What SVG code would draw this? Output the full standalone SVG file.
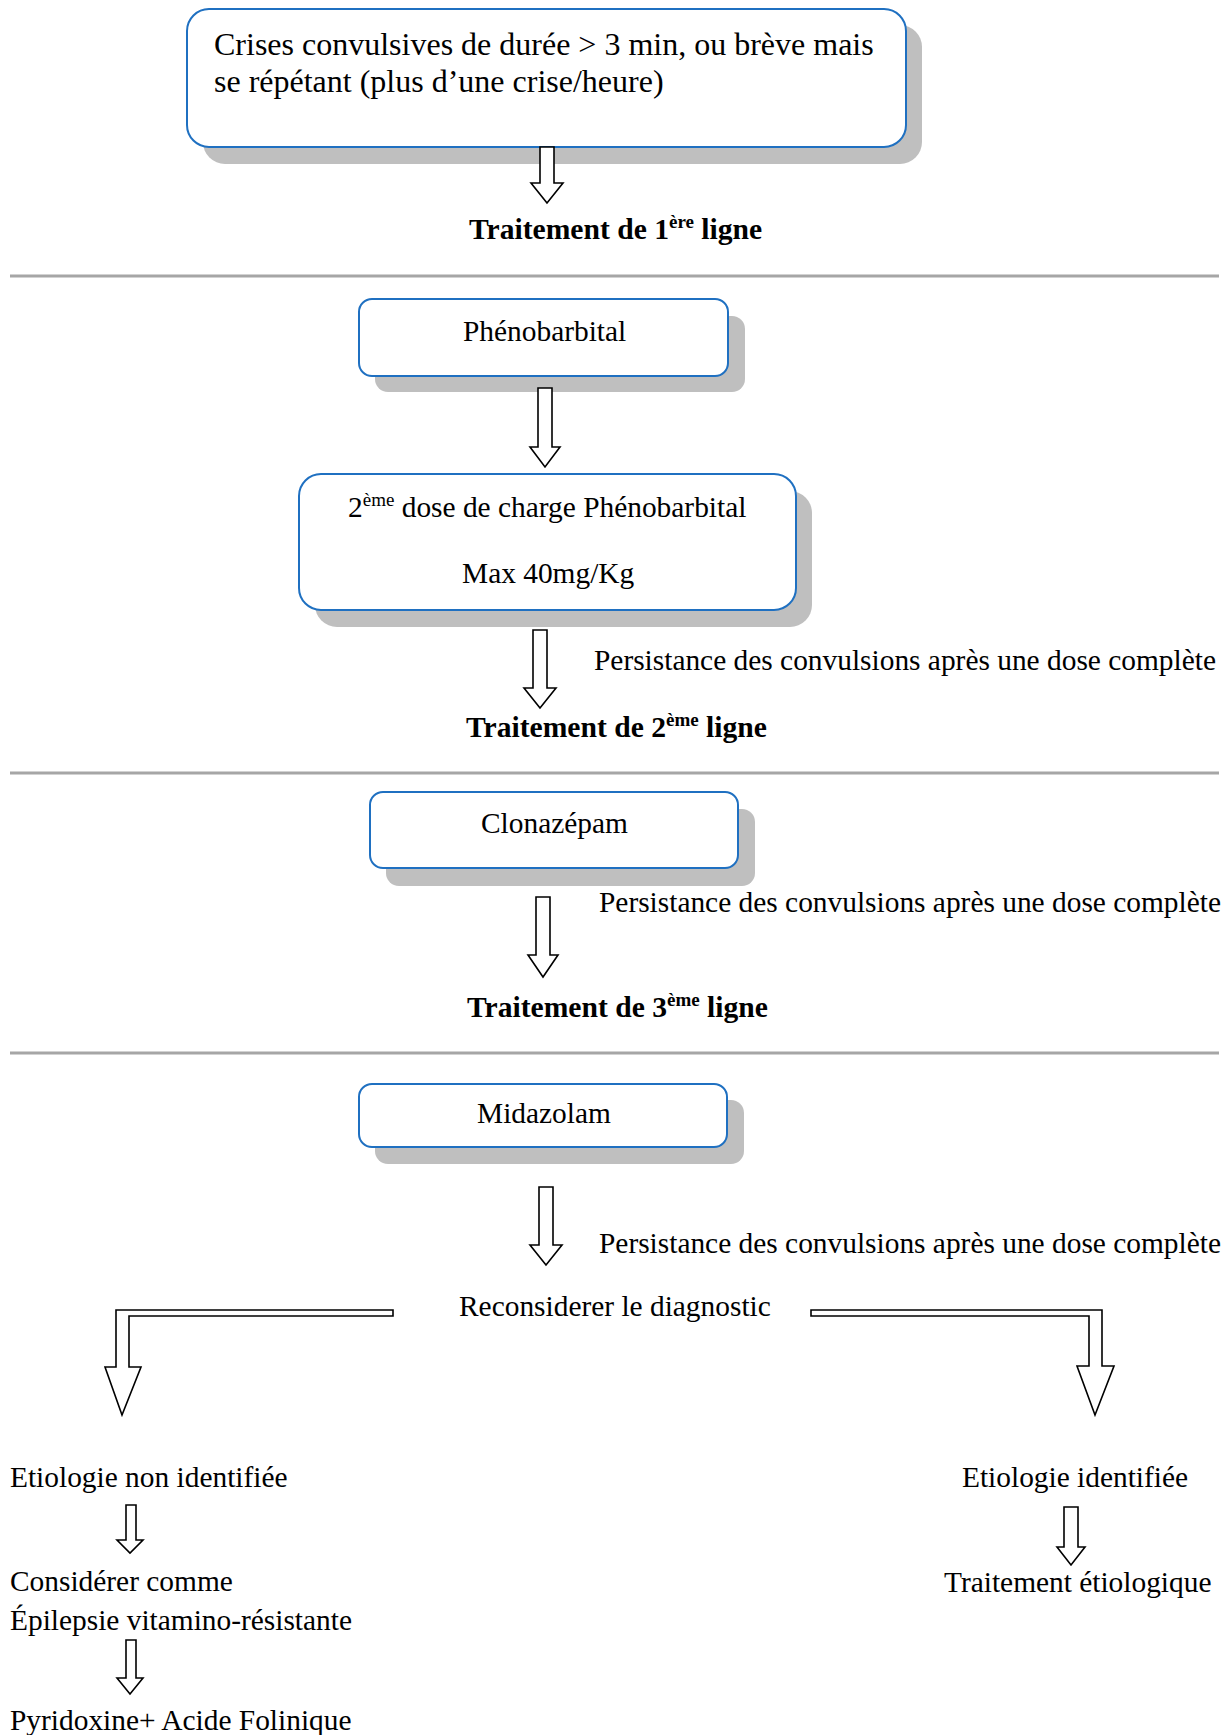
<svg xmlns="http://www.w3.org/2000/svg" width="1229" height="1735" viewBox="0 0 1229 1735">
<style>
text{font-family:"Liberation Serif","Times New Roman",serif;font-size:29.4px;fill:#000}
.b{font-weight:bold;font-size:29.6px}
.big{font-size:32px}
.box{fill:#fff;stroke:#1f70c1;stroke-width:2}
.sh{fill:#bfbfbf}
.arr{fill:#fff;stroke:#000;stroke-width:1.6;stroke-linejoin:miter}
.sep{stroke:#a6a6a6;stroke-width:3}
</style>
<rect width="1229" height="1735" fill="#fff"/>
<g id="separators">
<line class="sep" x1="10" y1="276" x2="1219" y2="276"/>
<line class="sep" x1="10" y1="773" x2="1219" y2="773"/>
<line class="sep" x1="10" y1="1053" x2="1219" y2="1053"/>
</g>
<g id="n-start">
<rect class="sh" x="203" y="25" width="719" height="139" rx="22"/>
<rect class="box" x="187" y="9" width="719" height="138" rx="22"/>
<text class="big" x="214" y="55">Crises convulsives de durée &gt; 3 min, ou brève mais</text>
<text class="big" x="214" y="92">se répétant (plus d’une crise/heure)</text>
</g>
<g id="n-l1"><text class="b" x="469" y="239">Traitement de 1<tspan font-size="19" dy="-11">ère</tspan><tspan dy="11"> ligne</tspan></text></g>
<g id="n-pheno">
<rect class="sh" x="375" y="316" width="370" height="76" rx="13"/>
<rect class="box" x="359" y="299" width="369" height="77" rx="13"/>
<text x="463" y="341">Phénobarbital</text>
</g>
<g id="n-pheno2">
<rect class="sh" x="315" y="491" width="497" height="136" rx="22"/>
<rect class="box" x="299" y="474" width="497" height="136" rx="22"/>
<text x="348" y="517">2<tspan font-size="19" dy="-11">ème</tspan><tspan dy="11"> dose de charge Phénobarbital</tspan></text>
<text x="462" y="583">Max 40mg/Kg</text>
</g>
<g id="n-p1"><text x="594" y="670">Persistance des convulsions après une dose complète</text></g>
<g id="n-l2"><text class="b" x="466" y="737">Traitement de 2<tspan font-size="19" dy="-11">ème</tspan><tspan dy="11"> ligne</tspan></text></g>
<g id="n-clona">
<rect class="sh" x="386" y="809" width="369" height="77" rx="13"/>
<rect class="box" x="370" y="792" width="368" height="76" rx="13"/>
<text x="481" y="833">Clonazépam</text>
</g>
<g id="n-p2"><text x="599" y="912">Persistance des convulsions après une dose complète</text></g>
<g id="n-l3"><text class="b" x="467" y="1017">Traitement de 3<tspan font-size="19" dy="-11">ème</tspan><tspan dy="11"> ligne</tspan></text></g>
<g id="n-mida">
<rect class="sh" x="375" y="1100" width="369" height="64" rx="13"/>
<rect class="box" x="359" y="1084" width="368" height="63" rx="13"/>
<text x="477" y="1123">Midazolam</text>
</g>
<g id="n-p3"><text x="599" y="1253">Persistance des convulsions après une dose complète</text></g>
<g id="n-recon"><text x="459" y="1316">Reconsiderer le diagnostic</text></g>
<g id="n-noid"><text x="10" y="1487">Etiologie non identifiée</text></g>
<g id="n-consid"><text x="10" y="1591">Considérer comme</text><text x="10" y="1630">Épilepsie vitamino-résistante</text></g>
<g id="n-pyri"><text x="10" y="1730">Pyridoxine+ Acide Folinique</text></g>
<g id="n-id"><text x="962" y="1487">Etiologie identifiée</text></g>
<g id="n-trt"><text x="944" y="1592">Traitement étiologique</text></g>
<g id="connectors">
<path class="arr" d="M540,147 H554 V183 H563 L547,203 L531,183 H540 Z"/>
<path class="arr" d="M538,388 H552 V447 H560 L545,467 L530,447 H538 Z"/>
<path class="arr" d="M533,630 H547 V688 H556 L540,708 L524,688 H533 Z"/>
<path class="arr" d="M536,897 H550 V955 H558 L543,977 L528,955 H536 Z"/>
<path class="arr" d="M539,1187 H553 V1245 H562 L546,1265 L530,1245 H539 Z"/>
<path class="arr" d="M393,1310 H116 V1367 H105 L122,1415 L141,1367 H129 V1316 H393 Z"/>
<path class="arr" d="M811,1310 H1102 V1366 H1114 L1095,1415 L1077,1366 H1089 V1316 H811 Z"/>
<path class="arr" d="M126,1505 H136 V1540 H143 L130,1553 L117,1540 H126 Z"/>
<path class="arr" d="M126,1640 H136 V1678 H143 L130,1694 L117,1678 H126 Z"/>
<path class="arr" d="M1064,1507 H1078 V1547 H1085 L1071,1565 L1057,1547 H1064 Z"/>
</g>
</svg>
